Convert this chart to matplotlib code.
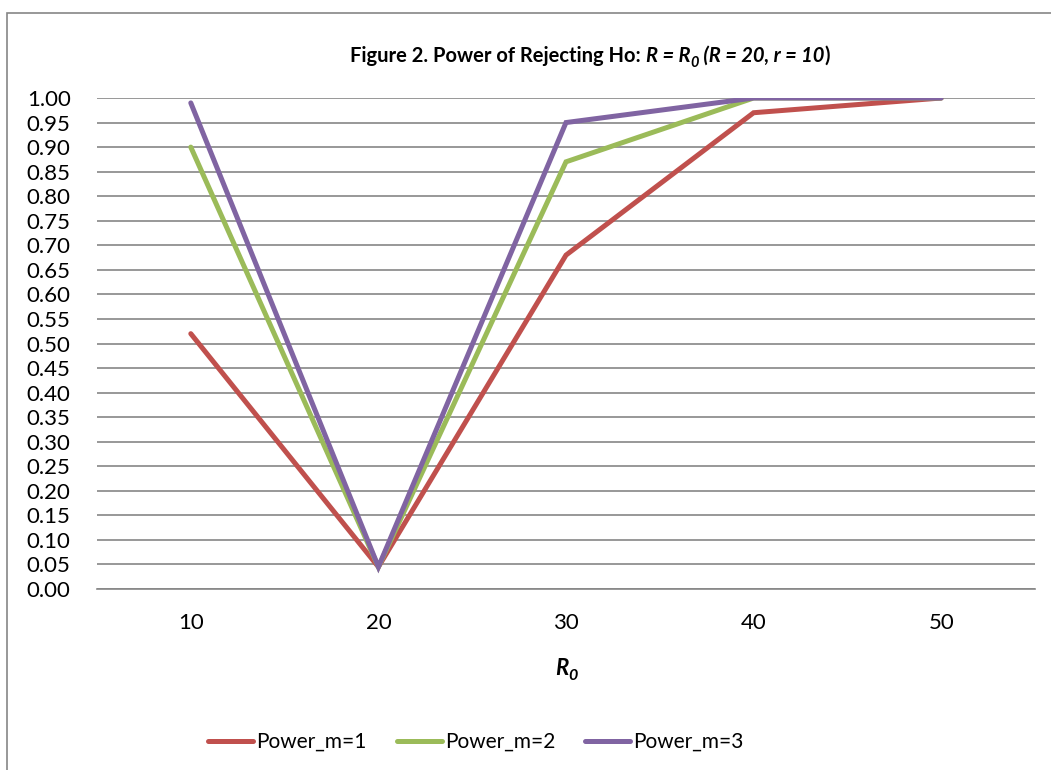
import matplotlib.pyplot as plt
from matplotlib.patches import Rectangle

plt.rcParams['font.family'] = ['Lato', 'DejaVu Sans']

# data
r0 = ['10', '20', '30', '40', '50']
power_m1 = [0.52, 0.045, 0.68, 0.97, 1.00]
power_m2 = [0.90, 0.045, 0.87, 1.00, 1.00]
power_m3 = [0.99, 0.045, 0.95, 1.00, 1.00]
labels = ['Power_m=1', 'Power_m=2', 'Power_m=3']
colors = ['#C0504D', '#9BBB59', '#8064A2']

fs = 16

fig = plt.figure(figsize=(10.51, 7.70), dpi=100)
ax = fig.add_axes([97/1051, 1-589/770, (1035-97)/1051, (589-98)/770])

x = range(len(r0))
for ys, lab, c in zip([power_m1, power_m2, power_m3], labels, colors):
    ax.plot(x, ys, color=c, lw=3.6, label=lab, solid_capstyle='round', solid_joinstyle='miter')

ax.set_xlim(-0.5, 4.5)
ax.set_ylim(0, 1)
ax.set_yticks([i*0.05 for i in range(21)])
ax.set_yticklabels(['%.2f' % (i*0.05) for i in range(21)], fontsize=fs)
ax.set_xticks(list(x))
ax.set_xticklabels(r0, fontsize=fs)
ax.tick_params(axis='y', length=0, pad=19)
ax.tick_params(axis='x', length=0, pad=17)
ax.grid(axis='y', color='#868686', lw=1.2)
ax.set_axisbelow(True)
for s in ['left', 'right', 'top']:
    ax.spines[s].set_visible(False)
ax.spines['bottom'].set_color('#868686')
ax.spines['bottom'].set_linewidth(1.2)


def place(pieces, xc, ybase):
    # lay text pieces side by side, centred on xc (pixels), baseline at ybase (pixels from top)
    r = fig.canvas.get_renderer()
    objs = []
    for txt, style, size, dy in pieces:
        t = fig.text(0, 0, txt, fontsize=size, fontweight='bold', fontstyle=style,
                     ha='left', va='baseline')
        objs.append((t, dy))
    widths = [t.get_window_extent(r).width for t, _ in objs]
    xpix = xc - sum(widths)/2
    for (t, dy), w in zip(objs, widths):
        t.set_position((xpix/1051, (770 - ybase - dy)/770))
        xpix += w


tfs = 14.5
title_pieces = [('Figure 2. Power of Rejecting Ho: ', 'normal', tfs, 0),
                ('R = R', 'italic', tfs, 0),
                ('0', 'italic', tfs*0.72, 5),
                (' (R = 20, r = 10', 'italic', tfs, 0),
                (')', 'normal', tfs, 0)]
place(title_pieces, 590, 62)

xlabel_pieces = [('R', 'italic', fs, 0), ('0', 'italic', fs*0.72, 5)]
place(xlabel_pieces, 566, 675)

fig.legend(loc='center', bbox_to_anchor=(476/1051, 1-742/770), ncol=3, frameon=False,
           fontsize=15, handlelength=2.15, handletextpad=0.15, columnspacing=1.45)

fig.patches.append(Rectangle((7/1051, -0.1), 1.2, 1-13/770+0.1, transform=fig.transFigure,
                             fill=False, edgecolor='#868686', lw=1.2))

fig.savefig('out.png', dpi=100)
